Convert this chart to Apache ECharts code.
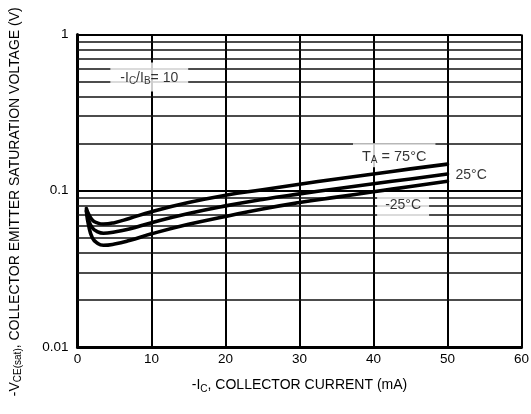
<!DOCTYPE html>
<html><head><meta charset="utf-8">
<script src="https://cdn.jsdelivr.net/npm/echarts@6/dist/echarts.min.js"></script>
<style>html,body{margin:0;padding:0;background:#fff}#c{width:531px;height:414px}</style>
</head><body><div id="c"></div>
<script>
// ---- data ----
const currentMA = [1.2, 1.5, 2, 2.6, 3.5, 5, 7, 10, 15, 20, 25, 30, 35, 40, 45, 50];
const vce75 = [0.077, 0.071, 0.065, 0.0625, 0.0612, 0.0625, 0.0665, 0.0735, 0.084, 0.0935, 0.1015, 0.110, 0.119, 0.128, 0.138, 0.148];
const vce25 = [0.075, 0.065, 0.058, 0.055, 0.0535, 0.0545, 0.057, 0.0625, 0.0715, 0.080, 0.088, 0.0955, 0.103, 0.111, 0.119, 0.128];
const vceM25 = [0.074, 0.060, 0.050, 0.0465, 0.0448, 0.0456, 0.048, 0.053, 0.061, 0.0685, 0.0765, 0.084, 0.091, 0.0985, 0.1065, 0.115];
const minorGridValues = [0.02,0.03,0.04,0.05,0.06,0.07,0.08,0.09,0.2,0.3,0.4,0.5,0.6,0.7,0.8,0.9];
const xTicks = [0,10,20,30,40,50,60];
const annotationX = [9.7, 42.8, 53.2, 44];
const annotationY = [0.534, 0.169, 0.126, 0.0807];
const annotationText = ['-I{s|C}/I{s|B}= 10', 'T{s|A} = 75°C', '25°C', '-25°C'];
const annotationPad = [[7,10,5,10],[5,9,2,9],[2,2,2,2],[5,8,5,8]];

const FONT = "'Liberation Sans',Arial,sans-serif";
const chart = echarts.init(document.getElementById('c'), null, {renderer:'canvas'});
const curveStyle = {color:'#000', width:3.6, join:'round', cap:'round'};
function pairs(ys){ return currentMA.map((x,i)=>[x, ys[i]]); }

chart.setOption({
  animation:false,
  backgroundColor:'#fff',
  grid:{left:77.5, right:9.5, top:34.5, bottom:67, containLabel:false, outerBoundsMode:'none'},
  xAxis:{
    type:'value', min:xTicks[0], max:xTicks[xTicks.length-1], interval:10,
    axisLine:{show:true, onZero:false, lineStyle:{color:'#000', width:3}},
    axisTick:{show:false},
    axisLabel:{color:'#000', fontSize:13.5, fontFamily:FONT, margin:5},
    splitLine:{show:true, lineStyle:{color:'#000', width:2}},
    name:'-I{s|C}, COLLECTOR CURRENT (mA)', nameLocation:'middle', nameGap:30,
    nameTextStyle:{color:'#000', fontSize:14, fontFamily:FONT,
      rich:{s:{fontSize:10, fontFamily:FONT, color:'#000', padding:[7,0,0,0]}}}
  },
  yAxis:{
    type:'log', logBase:10, min:0.01, max:1,
    axisLine:{show:true, onZero:false, lineStyle:{color:'#000', width:3}},
    axisTick:{show:false},
    axisLabel:{color:'#000', fontSize:13.5, fontFamily:FONT, margin:9,
      formatter:v=>String(Number(v.toPrecision(3)))},
    splitLine:{show:true, lineStyle:{color:'#000', width:2}},
    name:'-V{s|CE(sat)}, COLLECTOR EMITTER SATURATION VOLTAGE (V)', nameLocation:'middle', nameGap:54,
    nameTextStyle:{color:'#000', fontSize:14, fontFamily:FONT, padding:[0,22,0,0],
      rich:{s:{fontSize:10, fontFamily:FONT, color:'#000', padding:[7,0,0,0]}}}
  },
  series:[
    {type:'line', data:[], z:1, silent:true,
      markLine:{z:1, silent:true, symbol:['none','none'], label:{show:false},
        lineStyle:{color:'#111', width:1.6, type:'solid'},
        data: minorGridValues.map(v=>({yAxis:v}))}},
    {type:'scatter', z:3, symbolSize:0, silent:true,
      data: annotationX.map((x,i)=>({value:[x, annotationY[i]],
        label:{show:true, position:'inside', formatter:annotationText[i],
          backgroundColor:'#fff', padding:annotationPad[i],
          color:'#000', fontSize:i===1?14.5:14, fontFamily:FONT,
          rich:{s:{fontSize:10, fontFamily:FONT, color:'#000', padding:[7,0,0,0]}}}}))},
    {type:'line', z:4, data:pairs(vce75), showSymbol:false, smooth:0.5, lineStyle:curveStyle},
    {type:'line', z:4, data:pairs(vce25), showSymbol:false, smooth:0.5, lineStyle:curveStyle},
    {type:'line', z:4, data:pairs(vceM25), showSymbol:false, smooth:0.5, lineStyle:curveStyle}
  ]
});
</script></body></html>
